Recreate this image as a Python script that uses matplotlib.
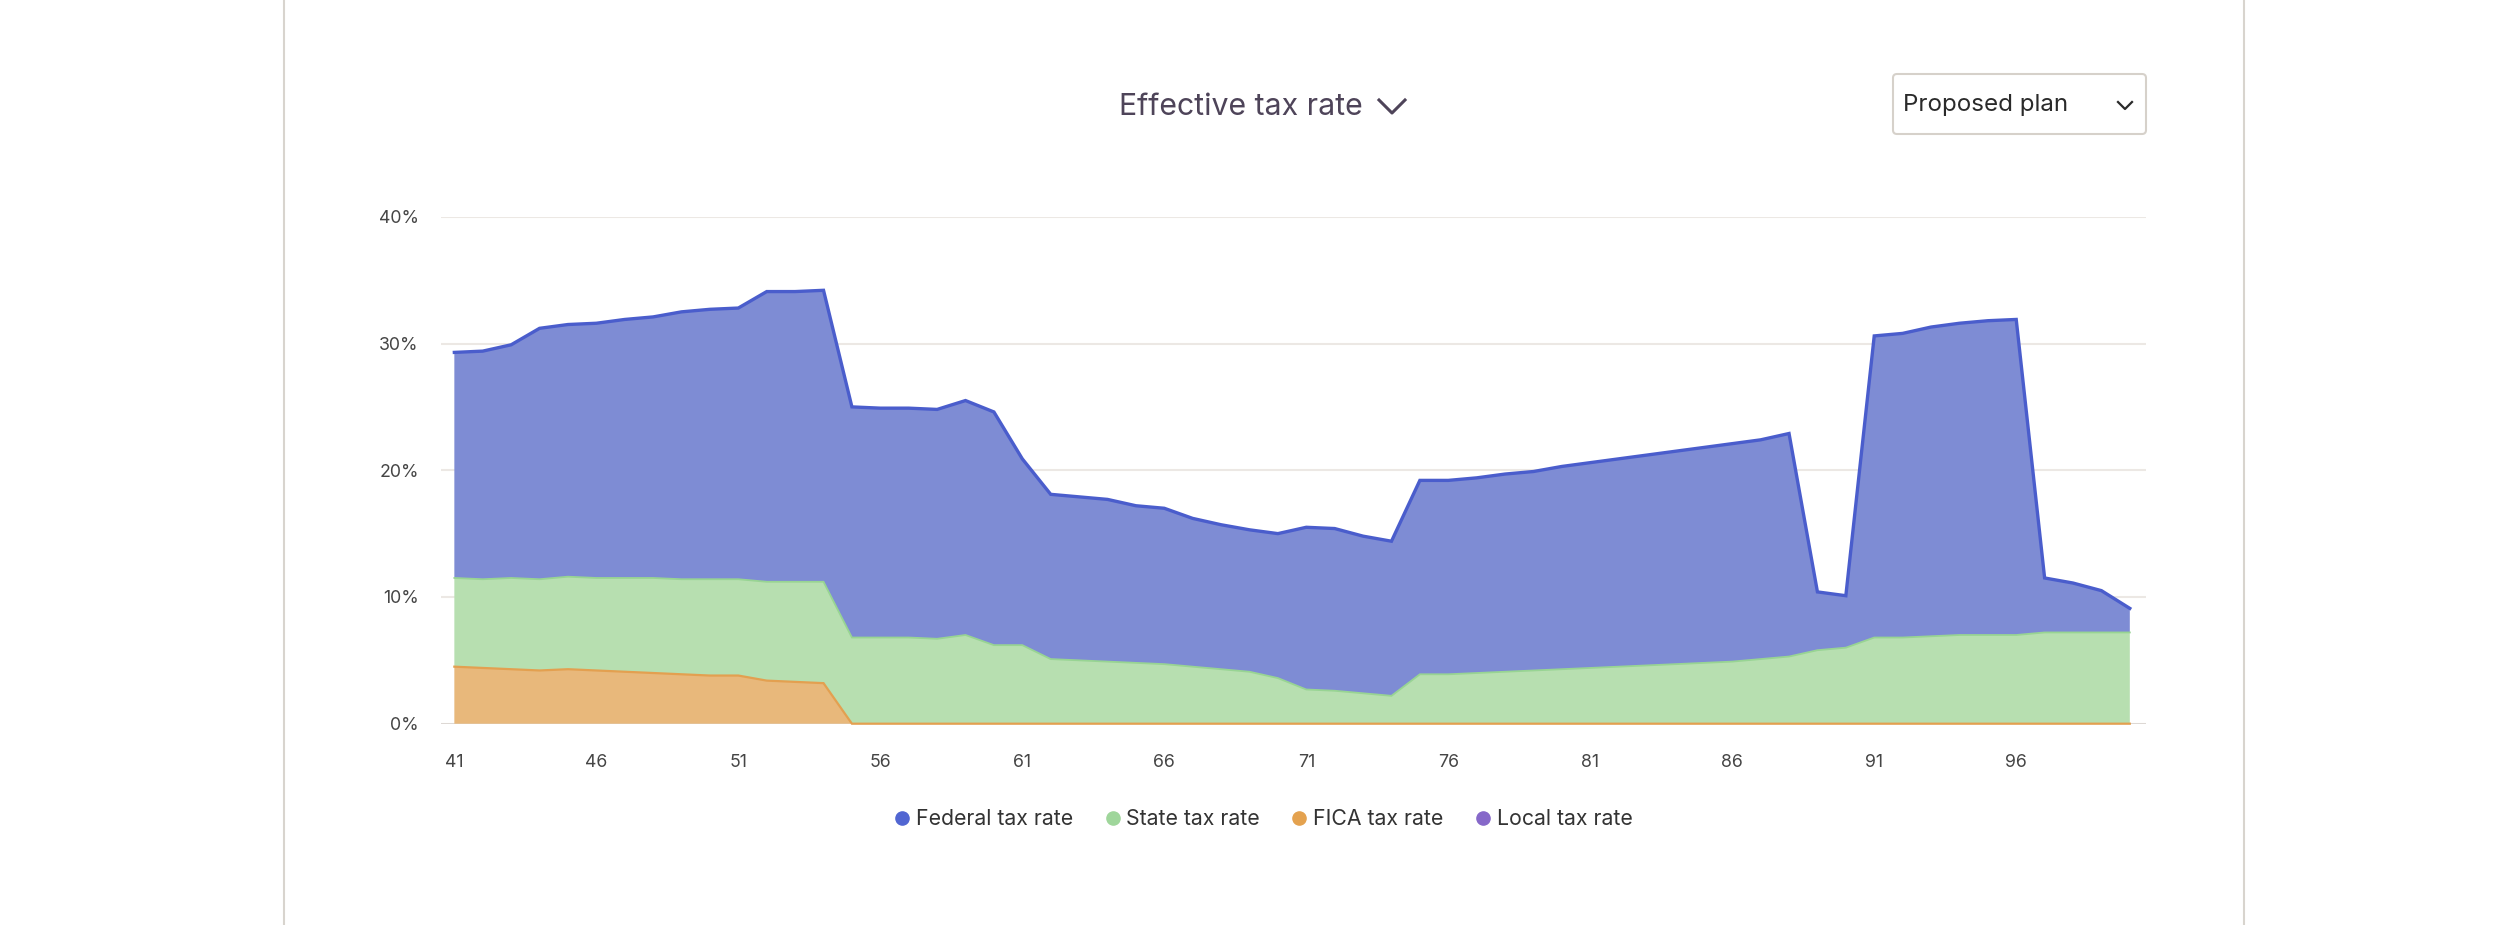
import numpy as np
import matplotlib
matplotlib.use("Agg")
import matplotlib.pyplot as plt
from matplotlib.lines import Line2D
from matplotlib.patches import FancyBboxPatch
from matplotlib.ticker import FuncFormatter

plt.rcParams["font.family"] = ["Inter", "DejaVu Sans"]

# ages 41..100
ages = np.arange(41, 101)

# layer values (percent), stacked bottom -> top: local, FICA, state, federal
local_rate = [0.0] * 60

fica_rate = [4.5, 4.4, 4.3, 4.2, 4.3, 4.2, 4.1, 4.0, 3.9, 3.8, 3.8, 3.4, 3.3, 3.2] + [0.0] * 46

state_rate = [
    7.0, 7.0, 7.2, 7.2, 7.3, 7.3, 7.4, 7.5, 7.5, 7.6,   # 41-50
    7.6, 7.8, 7.9, 8.0, 6.8, 6.8, 6.8, 6.7, 7.0, 6.2,   # 51-60
    6.2, 5.1, 5.0, 4.9, 4.8, 4.7, 4.5, 4.3, 4.1, 3.6,   # 61-70
    2.7, 2.6, 2.4, 2.2, 3.9, 3.9, 4.0, 4.1, 4.2, 4.3,   # 71-80
    4.4, 4.5, 4.6, 4.7, 4.8, 4.9, 5.1, 5.3, 5.8, 6.0,   # 81-90
    6.8, 6.8, 6.9, 7.0, 7.0, 7.0, 7.2, 7.2, 7.2, 7.2,   # 91-100
]

federal_rate = [
    17.8, 18.0, 18.4, 19.8, 19.9, 20.1, 20.4, 20.6, 21.1, 21.3,   # 41-50
    21.4, 22.9, 22.9, 23.0, 18.2, 18.1, 18.1, 18.1, 18.5, 18.4,   # 51-60
    14.7, 13.0, 12.9, 12.8, 12.4, 12.3, 11.7, 11.4, 11.2, 11.4,   # 61-70
    12.8, 12.8, 12.4, 12.2, 15.3, 15.3, 15.4, 15.6, 15.7, 16.0,   # 71-80
    16.2, 16.4, 16.6, 16.8, 17.0, 17.2, 17.3, 17.6, 4.6, 4.1,     # 81-90
    23.8, 24.0, 24.4, 24.6, 24.8, 24.9, 4.3, 3.9, 3.3, 1.9,       # 91-100
]

series_names = ["Federal tax rate", "State tax rate", "FICA tax rate", "Local tax rate"]
x_ticks = [41, 46, 51, 56, 61, 66, 71, 76, 81, 86, 91, 96]
y_ticks = [0, 10, 20, 30, 40]

# colours
fill_cols = {"local": "#9c86d6", "fica": "#e8b87b", "state": "#b7dfb0", "federal": "#7e8cd4"}
line_cols = {"fica": "#e3a050", "state": "#98d493", "federal": "#4a5dcc"}
dot_cols = ["#5166d2", "#9fd69b", "#e4a24f", "#8668c9"]

fig = plt.figure(figsize=(25, 9.25), dpi=100)
ax = fig.add_axes([441 / 2500, 1 - 723.7 / 925, (2146 - 441) / 2500, (723.7 - 216.8) / 925])

layers = [local_rate, fica_rate, state_rate, federal_rate]
keys = ["local", "fica", "state", "federal"]
ax.stackplot(ages, *layers, colors=[fill_cols[k] for k in keys], linewidth=0, zorder=2)

# outline on top of each visible layer (local is all zero, so no line)
tops = np.cumsum(np.array(layers), axis=0)
widths = {"fica": 1.6, "state": 1.3, "federal": 2.4}
for k, top in zip(keys[1:], tops[1:]):
    ax.plot(ages, top, color=line_cols[k], lw=widths[k], solid_joinstyle="miter", zorder=3, clip_on=False)

ax.set_xlim(40.53, 100.57)
ax.set_ylim(0, 40)
ax.set_xticks(x_ticks)
ax.set_yticks(y_ticks)
ax.yaxis.set_major_formatter(FuncFormatter(lambda v, _: f"{v:.0f}%"))
ax.grid(axis="y", color="#ece8e4", lw=1.5, zorder=0)
ax.set_axisbelow(True)
ax.tick_params(length=0, labelsize=12.8, labelcolor="#454545")
ax.tick_params(axis="x", pad=22)
ax.tick_params(axis="y", pad=16)
for s in ax.spines.values():
    s.set_visible(False)
ax.axhline(0, color="#d9d4cf", lw=1.8, zorder=1)

# page frame lines
for fx in (284 / 2500, 2244 / 2500):
    fig.add_artist(Line2D([fx, fx], [0, 1], transform=fig.transFigure, color="#d8d4ce", lw=1.5))

# title with chevron
fig.text(1241 / 2500, 1 - 107 / 925, "Effective tax rate", ha="center", va="center",
         fontsize=21.8, color="#4e4459")
fig.add_artist(Line2D([1379 / 2500, 1392 / 2500, 1405 / 2500],
                      [1 - 100 / 925, 1 - 113 / 925, 1 - 100 / 925],
                      transform=fig.transFigure, color="#4e4459", lw=2.2))

# plan dropdown
box = FancyBboxPatch((1893 / 2500, 1 - 134 / 925), 253 / 2500, 60 / 925,
                     boxstyle="round,pad=0,rounding_size=0.0016", mutation_aspect=2500 / 925,
                     transform=fig.transFigure, facecolor="white", edgecolor="#d6d1ca", lw=1.5)
fig.add_artist(box)
fig.text(1903 / 2500, 1 - 105 / 925, "Proposed plan", ha="left", va="center",
         fontsize=17.4, color="#2a2a2a")
fig.add_artist(Line2D([2118 / 2500, 2125 / 2500, 2132 / 2500],
                      [1 - 102 / 925, 1 - 109 / 925, 1 - 102 / 925],
                      transform=fig.transFigure, color="#2a2a2a", lw=1.6))

# legend
handles = [Line2D([], [], ls="none", marker="o", markersize=9.5, markerfacecolor=c,
                  markeredgecolor=c) for c in dot_cols]
fig.legend(handles, series_names, loc="center", bbox_to_anchor=(1262 / 2500, 1 - 819 / 925),
           ncol=4, frameon=False, fontsize=15.3, handletextpad=0.15, columnspacing=1.35,
           handlelength=1.0, labelcolor="#333333")

fig.savefig("out.png", dpi=100)
